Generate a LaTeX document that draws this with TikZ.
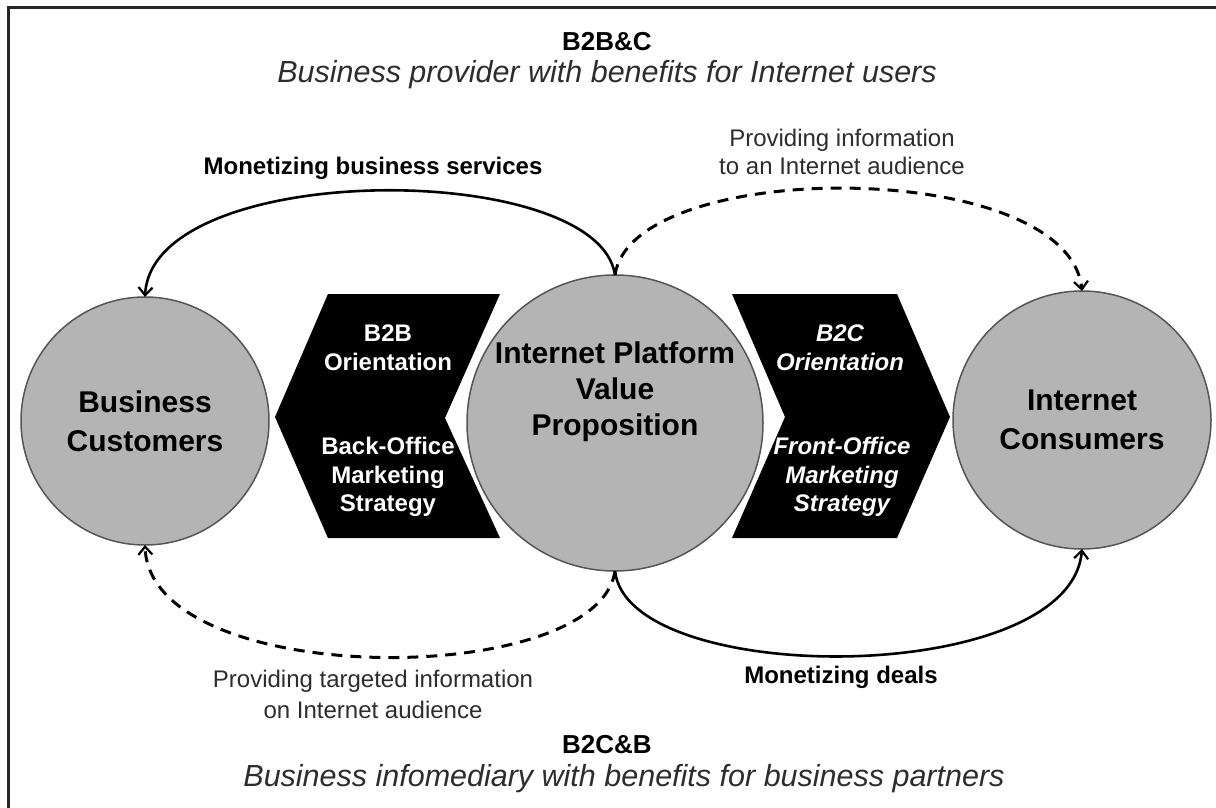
\documentclass[tikz,border=0pt]{standalone}
\usepackage{fontspec}
\setmainfont{Liberation Sans}
\usetikzlibrary{arrows.meta}
\definecolor{circfill}{RGB}{180,180,180}
\definecolor{circline}{RGB}{85,85,85}
\definecolor{txtgray}{RGB}{45,45,45}
\tikzset{
  party/.style={circle, draw=circline, line width=0.75pt, fill=circfill, inner sep=0pt, outer sep=0pt,
    align=center, font=\bfseries\fontsize{15}{19.5}\selectfont},
  chevtext/.style={align=center, text=white, font=\bfseries\fontsize{12}{14.3}\selectfont},
  flowsolid/.style={line width=1.3pt, -{Straight Barb[length=4pt,width=7pt,line width=1.1pt]}},
  flowdash/.style={line width=1.5pt, dash pattern=on 5.5pt off 4pt, -{Straight Barb[length=4pt,width=7pt,line width=1.1pt]}},
  flowlabel/.style={align=center, font=\fontsize{12}{15}\selectfont, text=txtgray},
  flowbold/.style={align=center, font=\bfseries\fontsize{12}{15}\selectfont},
  heading/.style={font=\bfseries\fontsize{13}{16}\selectfont},
  subheading/.style={font=\itshape\fontsize{15.25}{18}\selectfont, text=txtgray}
}
\begin{document}
\begin{tikzpicture}[x=0.5pt,y=-0.5pt]
\useasboundingbox (0,0) rectangle (1216,808);
\fill[white] (0,0) rectangle (1216,808);
% frame (runs off the right and bottom edges)
\draw[line width=1.5pt, color=black!85] (8,808) -- (8,8) -- (1216,8);

% chevrons
\fill[black] (500,294) -- (328,294) -- (275,417) -- (328,538) -- (500,538) -- (445,418) -- cycle;
\fill[black] (732,294) -- (897,294) -- (950,417) -- (897,538) -- (732,538) -- (785,417) -- cycle;

% circles
\node[party, minimum size=124pt] (bc) at (145,421) {Business\\Customers};
\node[party, minimum size=148pt, font=\bfseries\fontsize{15}{18}\selectfont] (ip) at (615,423) {};
\node[font=\bfseries\fontsize{15}{18}\selectfont, align=center] (iplabel) at (615,392) {Internet Platform\\Value\\Proposition};
\node[party, minimum size=129pt] (ic) at (1082,420) {Internet\\Consumers};

% chevron texts
\node[chevtext] (b2bo) at (388,348) {B2B\\Orientation};
\node[chevtext] (bom) at (388,477) {Back-Office\\Marketing\\Strategy};
\node[chevtext, font=\bfseries\itshape\fontsize{12}{14.3}\selectfont] (b2co) at (840,348) {B2C\\Orientation};
\node[chevtext, font=\bfseries\itshape\fontsize{12}{14.3}\selectfont] (fom) at (842,477) {Front-Office\\Marketing\\Strategy};

% headings
\node[heading] (h1) at (607,42) {B2B\&C};
\node[subheading] (s1) at (607,75) {Business provider with benefits for Internet users};
\node[heading] (h2) at (607,745) {B2C\&B};
\node[subheading] (s2) at (624,779) {Business infomediary with benefits for business partners};

% connectors
\draw[flowsolid] (ip.north) .. controls (598,159) and (152,159) .. (bc.north);
\draw[flowdash] (ip.north) .. controls (632,157) and (1068,157) .. (ic.north);
\draw[flowdash] (ip.south) .. controls (598,690) and (150,690) .. (bc.south);
\draw[flowsolid] (ip.south) .. controls (628,688) and (1070,688) .. (ic.south);

% connector labels
\node[flowbold] (l1) at (373,168) {Monetizing business services};
\node[flowlabel, font=\fontsize{12}{14}\selectfont] (l2) at (842,152) {Providing information\\to an Internet audience};
\node[flowlabel, font=\fontsize{12}{15.5}\selectfont] (l3) at (373,694) {Providing targeted information\\on Internet audience};
\node[flowbold] (l4) at (841,677) {Monetizing deals};
\end{tikzpicture}
\end{document}
